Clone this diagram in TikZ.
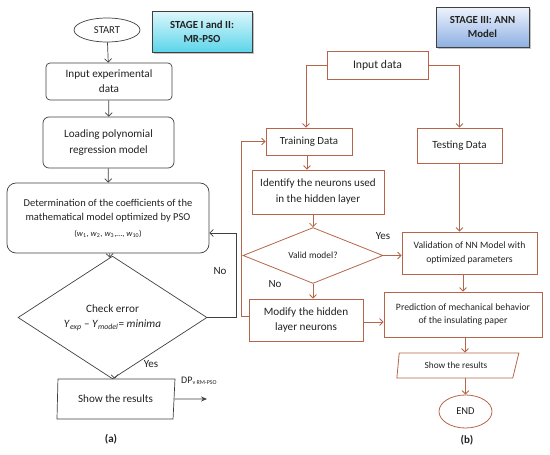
\documentclass[tikz,border=0pt]{standalone}
\usepackage{fontspec}
\setmainfont{Carlito}
\usetikzlibrary{shapes.geometric,arrows.meta,shadows}
\definecolor{lc}{HTML}{404040}
\definecolor{bc}{HTML}{B5654A}
\definecolor{tc}{HTML}{222222}
\definecolor{s1t}{HTML}{DDF7FB}
\definecolor{s1b}{HTML}{5CD5EA}
\definecolor{s3t}{HTML}{EEF3FC}
\definecolor{s3b}{HTML}{8EB0E3}
\begin{document}
\begin{tikzpicture}[x=1pt,y=-1pt,
  every node/.style={text=tc},
  fs/.style 2 args={font=\fontsize{#1}{#2}\selectfont},
  lbox/.style={draw=lc, line width=0.7pt, rounded corners=6pt, align=center, inner sep=0pt},
  rbox/.style={draw=bc, line width=0.8pt, align=center, inner sep=0pt},
  stagebox/.style={draw=lc, line width=0.8pt, align=center, inner sep=0pt, font=\bfseries\fontsize{10.8}{14.5}\selectfont,
     drop shadow={shadow xshift=2pt, shadow yshift=-2pt, fill=gray!60, opacity=0.8}},
  larr/.style={draw=lc, line width=0.7pt, -{Straight Barb[length=3.5pt,width=7pt]}},
  rarr/.style={draw=bc, line width=0.8pt, -{Straight Barb[length=3.5pt,width=7pt]}},
  lbl/.style={fs={11}{13}, inner sep=0pt}
]
\useasboundingbox (0,0) rectangle (550,455);

% ---------- (a) ----------
\node[draw=lc, line width=0.7pt, ellipse, minimum width=66pt, minimum height=24pt, inner sep=0pt, fs={10.6}{13}] (start) at (107,30) {START};
\node[stagebox, top color=s1t, bottom color=s1b, minimum width=100pt, minimum height=41pt] (st12) at (202,31.5) {STAGE I and II:\\MR-PSO};
\node[lbox, rounded corners=4pt, minimum width=126pt, minimum height=37pt, fs={11.2}{15}] (inexp) at (109,81.5) {Input experimental\\data};
\node[lbox, minimum width=131pt, minimum height=51pt, fs={11.2}{15.5}] (load) at (108.5,142.5) {Loading polynomial\\regression model};
\node[lbox, rounded corners=9pt, minimum width=202pt, minimum height=70pt, fs={10.5}{14.5}] (det) at (108,218)
  {Determination of the coefficients of the\\mathematical model optimized by PSO\\[1pt]
   {\fontsize{8.5}{10}\selectfont (\textit{w}\textsubscript{1}, \textit{w}\textsubscript{2}, \textit{w}\textsubscript{3},…, \textit{w}\textsubscript{10})}};
\node[draw=lc, line width=0.7pt, diamond, minimum width=189pt, minimum height=85pt, inner sep=0pt, align=center, fs={11.2}{15}] (chk) at (112.5,317.5)
  {Check error\\\textit{Y}\textsubscript{\textit{exp}} – \textit{Y}\textsubscript{\textit{model}}= \textit{minima}};
\node[draw=lc, line width=0.7pt, trapezium, trapezium left angle=83, trapezium right angle=104, trapezium stretches body,
  minimum width=118pt, minimum height=40pt, inner sep=0pt, fs={11.1}{13}] (show1) at (115.5,399) {Show the results};
\coordinate (dpend) at (207,399);
\node[fs={11}{13}] at (111,439) {\textbf{(a)}};

\draw[larr] (start) -- (inexp);
\draw[larr] (inexp) -- (load);
\draw[larr] (load) -- (det);
\draw[larr] (det) -- (chk);
\draw[larr] (chk) -- (show1);
\draw[larr] (chk.east) -- ++(29,0) |- (det.east |- 0,233);
\draw[draw=lc, line width=0.7pt, -{Stealth[length=6pt,width=5pt]}] (show1.east) -- (dpend);
\node[lbl] at (151,364) {Yes};
\node[lbl] at (220,271) {No};
\node[inner sep=0pt, anchor=west, fs={10}{12}] at (181,381) {DP\textsubscript{\fontsize{6}{7}\selectfont v RM-PSO}};

% ---------- (b) ----------
\node[stagebox, top color=s3t, bottom color=s3b, minimum width=93pt, minimum height=40pt] (st3) at (482.5,27) {STAGE III: ANN\\Model};
\node[rbox, minimum width=101pt, minimum height=28pt, fs={11.7}{14}] (indata) at (377.5,65) {Input data};
\node[rbox, minimum width=86pt, minimum height=27pt, fs={10.9}{13}] (train) at (309,141.5) {Training Data};
\node[rbox, minimum width=85pt, minimum height=35pt, fs={11}{13}] (test) at (459.5,145.5) {Testing Data};
\node[rbox, minimum width=132pt, minimum height=44pt, fs={11.1}{16}] (ident) at (318,192) {Identify the neurons used\\in the hidden layer};
\node[draw=bc, line width=0.8pt, diamond, minimum width=140pt, minimum height=47pt, inner sep=0pt, fs={9.4}{12}] (valid) at (313,255.5) {Valid model?};
\node[rbox, minimum width=135pt, minimum height=42pt, fs={9.7}{14}] (vali) at (469.5,253) {Validation of NN Model with\\optimized parameters};
\node[rbox, minimum width=114pt, minimum height=42pt, fs={11.2}{15.7}] (modif) at (306,320) {Modify the hidden\\layer neurons};
\node[rbox, minimum width=158pt, minimum height=45pt, fs={9.7}{12.5}] (pred) at (463,314.5) {Prediction of mechanical behavior\\of the insulating paper};
\node[draw=bc, line width=0.8pt, trapezium, trapezium left angle=70, trapezium right angle=133, trapezium stretches body,
  minimum width=122pt, minimum height=25pt, inner sep=0pt, fs={9.3}{12}] (show2) at (456,365.5) {Show the results};
\node[draw=bc, line width=0.8pt, ellipse, minimum width=53pt, minimum height=33pt, inner sep=0pt, fs={10.5}{12}] (endn) at (465.5,411.5) {END};
\node[fs={11}{13}] at (467,440) {\textbf{(b)}};

\draw[rarr] (indata.west) -| ([xshift=-3pt]train.north);
\draw[rarr] (indata.east) -| (test.north);
\draw[rarr] ([xshift=-2pt]train.south) -- ([xshift=-2pt]train.south |- ident.north);
\draw[rarr] (valid.north |- ident.south) -- (valid.north);
\draw[rarr] (test.south) -- (test.south |- vali.north);
\draw[rarr] (valid.east) -- (vali.west |- valid.east);
\draw[rarr] (valid.south) -- (valid.south |- modif.north);
\draw[rarr] (pred.north |- vali.south) -- (pred.north);
\draw[rarr] ([yshift=-2pt]modif.east) -- ([yshift=-2pt]modif.east -| pred.west);
\draw[rarr] ([xshift=2pt]pred.south) -- ([xshift=2pt]pred.south |- show2.north);
\draw[rarr] (endn.north |- show2.south) -- (endn.north);
\draw[rarr] ([yshift=4pt]modif.west) -- ++(-7,0) |- (train.west);
\node[lbl] at (383,236) {Yes};
\node[lbl] at (275,284) {No};
\end{tikzpicture}
\end{document}
